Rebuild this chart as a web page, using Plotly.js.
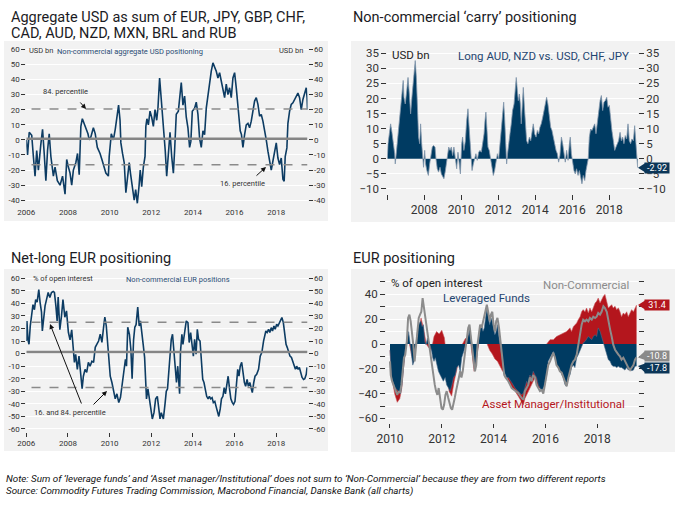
<!DOCTYPE html>
<html><head><meta charset="utf-8">
<script src="https://cdn.plot.ly/plotly-3.0.1.min.js"></script>
<style>html,body{margin:0;padding:0;background:#fff;}#chart{width:700px;height:518px;}</style>
</head><body><div id="chart"></div>
<script>
// ---------- Panel 1: aggregate USD (USD bn) ----------
const usdYears = [2006.00,2006.06,2006.14,2006.26,2006.34,2006.42,2006.50,2006.58,2006.69,2006.78,2006.86,2006.94,2007.02,2007.10,2007.18,2007.30,2007.38,2007.49,2007.62,2007.74,2007.86,2007.94,2008.02,2008.10,2008.18,2008.26,2008.38,2008.46,2008.54,2008.62,2008.69,2008.77,2008.86,2008.96,2009.02,2009.10,2009.22,2009.31,2009.41,2009.54,2009.63,2009.73,2009.82,2009.94,2009.98,2010.08,2010.18,2010.27,2010.37,2010.43,2010.50,2010.54,2010.62,2010.70,2010.78,2010.86,2010.94,2011.00,2011.10,2011.18,2011.25,2011.33,2011.41,2011.47,2011.54,2011.62,2011.70,2011.74,2011.79,2011.86,2011.94,2012.02,2012.10,2012.18,2012.26,2012.32,2012.40,2012.46,2012.53,2012.61,2012.67,2012.74,2012.82,2012.90,2012.98,2013.06,2013.12,2013.20,2013.30,2013.44,2013.52,2013.60,2013.68,2013.76,2013.84,2013.90,2013.97,2014.08,2014.16,2014.24,2014.32,2014.40,2014.48,2014.56,2014.64,2014.72,2014.80,2014.88,2014.96,2015.04,2015.12,2015.20,2015.28,2015.36,2015.44,2015.52,2015.60,2015.68,2015.76,2015.84,2015.92,2016.00,2016.08,2016.14,2016.21,2016.27,2016.33,2016.40,2016.48,2016.56,2016.64,2016.72,2016.80,2016.88,2016.96,2017.04,2017.12,2017.20,2017.28,2017.36,2017.44,2017.52,2017.60,2017.68,2017.76,2017.84,2017.92,2018.00,2018.08,2018.16,2018.24,2018.32,2018.38,2018.43,2018.51,2018.56,2018.64,2018.72,2018.80,2018.88,2018.96,2019.04,2019.12,2019.20,2019.28,2019.36,2019.44,2019.48,2019.50];
const usdVals = [0,-10,5,3,-11,-24,-7,-20,-4,7,-9,-27,-7,4,-11,-24,-18,-27,-30,-24,-36,-13,-18,-22,-30,-20,-15,-9,-23,9,14,11,7,4,0,2,8,4,-5,-9,-13,-18,-22,-24,-11,4,0,7,18,23,13,-2,-9,-15,-35,-24,-15,-22,-31,-40,-33,-42,-31,-20,-31,-18,-11,9,14,10,19,15,9,20,13,21,41,31,22,4,-7,-24,-11,5,-11,-22,-7,17,19,38,23,29,15,8,-5,-1,19,21,25,17,1,-5,6,3.5,21,30,39,45.5,51,48,45.5,41,44.5,39,34.5,28,37,30,34.5,28,41,44.5,34.5,25.5,14.6,6,3.5,-5,3.5,10,11,8,12.4,19,25.7,28,23.5,15.7,16.8,12.4,7,0,-7.5,-14,-20,-14,-6.4,-2,-12,-16.4,-12,-26,-27.4,-11,-5.3,11,19,23.5,24.6,26.8,29,31,28,20,26.8,31,34.5,28,20];
const usdP84 = 20.5, usdP16 = -16.5, usdMid = 0.8;

// ---------- Panel 2: carry positioning (USD bn) ----------
const carryYears = [2006.00,2006.04,2006.11,2006.18,2006.25,2006.32,2006.40,2006.43,2006.50,2006.58,2006.65,2006.72,2006.79,2006.86,2006.90,2006.97,2007.05,2007.12,2007.19,2007.26,2007.33,2007.41,2007.48,2007.51,2007.57,2007.62,2007.69,2007.75,2007.80,2007.86,2007.91,2007.96,2008.02,2008.07,2008.14,2008.22,2008.29,2008.36,2008.43,2008.50,2008.58,2008.63,2008.70,2008.77,2008.85,2008.92,2008.99,2009.06,2009.14,2009.21,2009.26,2009.32,2009.39,2009.46,2009.53,2009.60,2009.68,2009.75,2009.82,2009.89,2009.95,2010.02,2010.07,2010.14,2010.22,2010.29,2010.36,2010.41,2010.47,2010.52,2010.58,2010.65,2010.72,2010.79,2010.86,2010.94,2011.01,2011.08,2011.15,2011.23,2011.28,2011.33,2011.39,2011.44,2011.51,2011.59,2011.66,2011.73,2011.80,2011.87,2011.95,2012.02,2012.09,2012.16,2012.23,2012.29,2012.34,2012.40,2012.45,2012.50,2012.56,2012.63,2012.70,2012.77,2012.85,2012.92,2012.97,2013.03,2013.08,2013.14,2013.19,2013.24,2013.30,2013.35,2013.41,2013.46,2013.53,2013.60,2013.68,2013.75,2013.82,2013.89,2013.96,2014.04,2014.11,2014.18,2014.25,2014.32,2014.40,2014.47,2014.54,2014.61,2014.68,2014.76,2014.83,2014.90,2014.97,2015.05,2015.12,2015.19,2015.26,2015.33,2015.41,2015.48,2015.55,2015.62,2015.69,2015.77,2015.84,2015.89,2015.95,2016.02,2016.09,2016.16,2016.23,2016.31,2016.38,2016.45,2016.52,2016.59,2016.67,2016.74,2016.81,2016.86,2016.92,2016.99,2017.06,2017.14,2017.21,2017.28,2017.35,2017.42,2017.50,2017.57,2017.64,2017.71,2017.78,2017.86,2017.93,2018.00,2018.07,2018.14,2018.22,2018.29,2018.36,2018.43,2018.50,2018.58,2018.65,2018.72,2018.79,2018.86,2018.94,2019.01,2019.08,2019.15,2019.22,2019.30,2019.37,2019.44,2019.50,2019.53];
const carryVals = [0,5,8.3,11.6,8.8,6,1.7,-1.7,2.8,8.3,12.7,16,22.6,26,20.4,18.2,22.6,27,21.5,14.9,20.4,26,29.2,32.6,27,18.2,7.2,5,11.6,5,0,-2.8,2.8,-1.7,-3.9,-5.5,-1.7,1.7,3.9,4.4,3.9,0,-3.3,-4.4,-2.8,-5,-6,-6.6,-3.9,-0.5,1.7,3.9,2.8,3.9,1.1,3.9,0,-3.3,2.2,-1.7,-5,5,7.2,2.8,6,12.7,16.6,11.6,5,0,-3.9,-1.7,0.6,1.7,-0.5,2.2,2.8,2.2,5,8.3,12.7,15.5,9.4,3.9,2.8,-0.5,-2.8,-5.5,-3.9,-1.7,1.7,0,5,9.4,16.6,18.8,13.8,5,-1.7,1.7,6,8.3,11.6,16,18.2,23.7,27,22.6,19.3,21.5,18.2,11.6,21.5,23.7,17.1,10.5,6,5,7.2,6,9.4,11.6,8.3,7.2,9.4,8.3,10.5,11.6,13.8,16,18.2,20.4,18.2,12.7,10.5,9.4,7.2,5,2.8,1.7,-1.1,1.1,7.2,5,1.7,-1.1,2.8,-0.5,5,7.2,1.7,-1.7,-3.9,-5,-3.3,-5.5,-3.9,-6,-8.3,-5.5,-7.2,-3.9,-1.7,0,7.2,9.9,9.4,10.5,11.6,8.3,11.6,16,19.3,21,16,18.8,19.3,20.4,17.1,17.7,12.7,9.4,6,2.8,3.9,5,6,8.8,6,7.2,5,7.7,6.6,11.6,6,5,6.6,6,11,5,0,-2.92];

// ---------- Panel 3: net-long EUR (% of open interest) ----------
const eurYears = [2006.00,2006.03,2006.08,2006.13,2006.19,2006.26,2006.32,2006.39,2006.45,2006.52,2006.60,2006.66,2006.73,2006.77,2006.84,2006.90,2006.97,2007.05,2007.13,2007.21,2007.29,2007.35,2007.42,2007.48,2007.53,2007.61,2007.69,2007.76,2007.85,2007.93,2008.02,2008.10,2008.18,2008.26,2008.31,2008.37,2008.45,2008.53,2008.61,2008.68,2008.74,2008.82,2008.90,2008.98,2009.06,2009.15,2009.23,2009.31,2009.39,2009.47,2009.55,2009.63,2009.71,2009.77,2009.84,2009.90,2009.97,2010.03,2010.11,2010.19,2010.27,2010.35,2010.44,2010.52,2010.60,2010.68,2010.76,2010.81,2010.87,2010.95,2011.02,2011.08,2011.15,2011.21,2011.27,2011.35,2011.42,2011.48,2011.55,2011.61,2011.68,2011.73,2011.77,2011.84,2011.90,2011.97,2012.05,2012.13,2012.21,2012.29,2012.35,2012.42,2012.48,2012.58,2012.66,2012.72,2012.78,2012.84,2012.90,2012.96,2013.02,2013.08,2013.15,2013.21,2013.27,2013.36,2013.40,2013.47,2013.52,2013.60,2013.68,2013.76,2013.82,2013.89,2013.95,2014.02,2014.08,2014.15,2014.21,2014.27,2014.34,2014.40,2014.47,2014.53,2014.60,2014.66,2014.73,2014.79,2014.85,2014.92,2014.98,2015.05,2015.11,2015.18,2015.24,2015.31,2015.37,2015.44,2015.50,2015.56,2015.63,2015.69,2015.76,2015.82,2015.89,2015.95,2016.02,2016.08,2016.15,2016.21,2016.27,2016.34,2016.40,2016.47,2016.53,2016.60,2016.66,2016.73,2016.79,2016.85,2016.92,2016.98,2017.06,2017.15,2017.23,2017.31,2017.39,2017.44,2017.50,2017.56,2017.63,2017.69,2017.76,2017.82,2017.89,2017.95,2018.02,2018.08,2018.15,2018.21,2018.27,2018.34,2018.40,2018.47,2018.53,2018.60,2018.66,2018.73,2018.79,2018.85,2018.92,2018.98,2019.05,2019.11,2019.18,2019.24,2019.31,2019.37,2019.44,2019.48];
const eurVals = [10,26,11,7.5,22,33,39,35,43,41,51,41,33,18,30,38,43,48.7,44.7,48.7,49.5,48.7,38,26,45,19,30,43,29,34,17,11,19,6,-7,-0.5,-12.5,-2,-15,-28,-18,-12.5,-15,-7,-10,-6,-7,5,7.5,10,15.4,9,21,29,22,9,-7,-18,-23,-31,-36,-32,-39,-35,-26,-15,-4.5,-10,21,15.4,3.5,-20,11,21,23,37,22,26,18,7.5,-3,-20,-36,-28,-36,-44,-52,-47,-36,-34,-44,-52,-47,-52,-40,-30,-28,-15,-2,11.4,15.4,1,-15,-23,-10,-32,1,15.4,7.4,19.4,26,24.7,8.8,16.8,10,-2,11.4,-0.5,19.4,11.4,10,-2,-20.5,-23,-31,-34,-36,-34,-36,-35,-39,-38,-42,-48,-50,-44,-36,-34,-27,-32,-26,-18,-28.5,-36,-39,-40.4,-38,-23,-12.5,-18,-10,-7,-15,-23,-26,-20.5,-26,-23,-27,-31,-23,-18,-16.5,-12.5,-2,1,10,15.4,18,16.8,19.4,16.8,20.7,18,22,19.4,23.4,22,24.7,26,28.7,24.7,16.8,7.4,4.8,1,-2,-3,-6,-8.5,-12.5,-10,-12.5,-11,-15,-19,-20.5,-20,-16.5,-11];
const eurP84 = 25, eurP16 = -27, eurMid = 1.3;

// ---------- Panel 4: EUR positioning (% of open interest) ----------
const lfYears = [2010.00,2010.06,2010.19,2010.32,2010.41,2010.46,2010.52,2010.57,2010.62,2010.67,2010.72,2010.77,2010.83,2010.88,2010.93,2010.98,2011.03,2011.08,2011.14,2011.19,2011.24,2011.29,2011.34,2011.39,2011.45,2011.50,2011.55,2011.60,2011.65,2011.70,2011.75,2011.81,2011.87,2011.94,2012.00,2012.06,2012.13,2012.19,2012.26,2012.32,2012.39,2012.45,2012.52,2012.58,2012.65,2012.71,2012.77,2012.84,2012.90,2012.97,2013.03,2013.07,2013.12,2013.17,2013.23,2013.28,2013.33,2013.38,2013.43,2013.48,2013.54,2013.59,2013.64,2013.69,2013.74,2013.79,2013.85,2013.90,2013.95,2014.00,2014.05,2014.10,2014.15,2014.21,2014.26,2014.31,2014.36,2014.41,2014.50,2014.57,2014.70,2014.83,2014.95,2015.08,2015.15,2015.21,2015.28,2015.34,2015.40,2015.47,2015.53,2015.60,2015.66,2015.73,2015.79,2015.86,2015.92,2015.98,2016.05,2016.11,2016.18,2016.24,2016.31,2016.37,2016.43,2016.50,2016.56,2016.63,2016.69,2016.76,2016.82,2016.89,2016.95,2017.01,2017.08,2017.14,2017.21,2017.27,2017.34,2017.40,2017.46,2017.53,2017.59,2017.66,2017.72,2017.79,2017.85,2017.92,2017.98,2018.04,2018.11,2018.17,2018.24,2018.30,2018.37,2018.43,2018.50,2018.56,2018.62,2018.69,2018.75,2018.82,2018.88,2018.94,2019.01,2019.07,2019.14,2019.20,2019.27,2019.33,2019.40,2019.46,2019.52];
const lfVals = [-5,-27,-35,-38,-40,-33,-17,-8.6,0,2,10,-0.5,-8.6,-17,-14,-3.2,4.8,13,17,18.3,14,15.6,2,-0.5,4.8,2,-2,-4.6,-11,-14,-11,-17,-22,-25,-27,-30,-27,-33,-35.5,-38,-33,-27,-25,-19,-17,-22,-11,-7,-2,2,7.5,13,6,-0.5,-8.6,-17,-14,-3.2,7.5,13,15.6,10.2,13,21,29,23.7,15.6,21,18.3,13,7.5,10.2,15.6,4.8,-0.5,-8.6,-17,-22,-27,-27,-31,-35.5,-38,-41,-39.5,-35.5,-30,-33,-25,-27,-22,-25,-27,-33,-35.5,-38,-35.5,-33,-25,-14,-11,-8.6,-6,-11,-17,-19,-22,-25,-27,-33,-34,-27,-25,-19,-17,-19,-11,-8.6,-4.6,-2,0.8,2,3.5,6,4.8,3.5,6,7.5,6,13,10.2,6,0.8,-4.6,-10,-12.6,-14,-17,-18,-18,-19,-18,-19,-19,-20,-21,-19,-21,-20,-21.5,-21,-18,-17.8];
const amYears = [2010.00,2010.08,2010.18,2010.28,2010.38,2010.46,2010.52,2010.60,2010.70,2010.80,2010.90,2011.00,2011.10,2011.20,2011.30,2011.40,2011.50,2011.60,2011.70,2011.80,2011.90,2012.00,2012.10,2012.18,2012.28,2012.38,2012.48,2012.58,2012.70,2012.80,2012.90,2013.00,2013.08,2013.15,2013.25,2013.35,2013.45,2013.55,2013.65,2013.75,2013.85,2013.95,2014.05,2014.15,2014.25,2014.35,2014.44,2014.57,2014.70,2014.83,2014.95,2015.08,2015.15,2015.21,2015.28,2015.34,2015.47,2015.60,2015.73,2015.86,2015.92,2015.98,2016.05,2016.18,2016.31,2016.43,2016.56,2016.69,2016.82,2016.95,2017.01,2017.08,2017.14,2017.21,2017.27,2017.34,2017.40,2017.46,2017.53,2017.59,2017.66,2017.72,2017.79,2017.85,2017.92,2017.98,2018.04,2018.11,2018.17,2018.24,2018.30,2018.37,2018.43,2018.50,2018.56,2018.62,2018.69,2018.75,2018.82,2018.88,2018.94,2019.01,2019.07,2019.14,2019.20,2019.27,2019.33,2019.40,2019.46,2019.52];
const amVals = [-5,-28,-40,-47,-44,-35,-20,-5,5,-5,-15,-2,10,21,12,0,-3,-5,6,10,8,11,5,-10,-38,-42,-30,-20,-10,0,4,6,8,-5,-22,-10,3,8,5,0,-5,-8,-12,-14,-18,-22,-22,-30,-35.5,-38,-42,-46,-49,-44,-41,-38,-33,-27,-35.5,-35.5,-30,-17,0,3.5,3.5,6,7.5,9,10,13,10,14,15.6,17,19.6,22,26,27.7,26,29,25,29,26,30,33,34.4,37,33,35.8,38.4,40,34.4,29,30.4,31.7,29,30.4,27.7,29,26,22,25,23.7,26,22,25,27.7,26,29,31.4];
const ncYears = [2010.00,2010.03,2010.08,2010.13,2010.18,2010.23,2010.28,2010.34,2010.39,2010.44,2010.49,2010.54,2010.59,2010.65,2010.70,2010.75,2010.80,2010.85,2010.90,2010.95,2011.00,2011.06,2011.11,2011.16,2011.21,2011.26,2011.32,2011.37,2011.42,2011.47,2011.52,2011.57,2011.63,2011.68,2011.73,2011.78,2011.83,2011.88,2011.94,2011.99,2012.04,2012.09,2012.14,2012.19,2012.25,2012.30,2012.35,2012.40,2012.45,2012.50,2012.55,2012.61,2012.66,2012.71,2012.76,2012.81,2012.86,2012.92,2012.97,2013.02,2013.07,2013.12,2013.17,2013.23,2013.28,2013.33,2013.38,2013.43,2013.48,2013.54,2013.59,2013.64,2013.69,2013.74,2013.79,2013.85,2013.90,2013.95,2014.00,2014.05,2014.10,2014.15,2014.21,2014.26,2014.31,2014.36,2014.41,2014.46,2014.57,2014.70,2014.83,2014.95,2015.08,2015.15,2015.21,2015.28,2015.34,2015.40,2015.47,2015.53,2015.60,2015.66,2015.73,2015.79,2015.86,2015.92,2015.98,2016.05,2016.11,2016.18,2016.24,2016.31,2016.37,2016.43,2016.50,2016.56,2016.63,2016.69,2016.76,2016.82,2016.89,2016.95,2017.01,2017.08,2017.14,2017.21,2017.27,2017.34,2017.40,2017.46,2017.53,2017.59,2017.66,2017.72,2017.79,2017.85,2017.92,2017.98,2018.04,2018.11,2018.17,2018.24,2018.30,2018.37,2018.43,2018.50,2018.56,2018.62,2018.69,2018.75,2018.82,2018.88,2018.94,2019.01,2019.07,2019.14,2019.20,2019.27,2019.33,2019.40,2019.46,2019.52];
const ncVals = [-14,-25,-30,-33,-35.5,-39.5,-41,-38,-39.5,-33,-19,-11,-8.6,2,21,23.7,18.3,10,-0.5,-14,-3,15.6,21,23.7,26,37,27.7,23.7,13,4.8,-0.5,-8.6,-17,-27,-33,-38,-41,-35.5,-46,-51.6,-53,-49,-41,-38,-43.5,-49,-51.6,-53,-49,-43.5,-38,-33,-27,-22,-27,-22,-11,-3,4.8,13,15.6,4.8,-6,-14,-22,-17,-0.5,10,15.6,13,18.3,23.7,29,31.7,26,18.3,23.7,26,15.6,10,18.3,21,13,2,-8.6,-19,-25,-27,-30,-35.5,-38,-39.5,-43.5,-45,-38,-35.5,-33,-27,-30,-25,-27,-33,-35.5,-38,-37,-40,-33,-22,-17,-14,-11,-7,-11,-17,-19,-22,-23,-27,-31,-34,-27,-22,-17,-14,-12.6,-8.6,-0.5,7.5,15.6,19.6,18.3,19.6,18.3,21,19.6,22,21,22,25,23.7,26,30.4,29,26,18.3,11.6,6,-0.5,-4.6,-7,-8.6,-10,-12.6,-11,-14,-17,-19,-21,-19,-17,-12.6,-10.8];

// ---------- tick labels ----------
const yearTicks12 = [2006,2008,2010,2012,2014,2016,2018];
const yearTicks2 = [2006,2008,2010,2012,2014,2016,2018];
const yearText2 = ['','2008','2010','2012','2014','2016','2018'];
const yearTicks4 = [2010,2012,2014,2016,2018];
const usdTicks = [-40,-30,-20,-10,0,10,20,30,40,50,60];
const carryTicks = [-10,-5,0,5,10,15,20,25,30,35];
const eurTicks = [-60,-50,-40,-30,-20,-10,0,10,20,30,40,50,60];
const posTicks = [-60,-50,-40,-30,-20,-10,0,10,20,30,40,50];

// ---------- helpers ----------
const W = 700, H = 518;
const px = v => v / W, py = v => 1 - v / H;
const FONT = 'Roboto, "Open Sans", Arial, sans-serif';
const NAVY = '#0d3c63', AREA_NAVY = '#003b62', RED = '#b4161d', GRAY = '#8c8c8c', BG = '#f2f2f2';
const lab = v => (v < 0 ? '-' + Math.abs(v) : String(v));
const labM = v => (v < 0 ? '\u2212' + Math.abs(v) : String(v));
const last = a => a[a.length - 1];

function yAx(domain, range, ticks, text, size, anchor, extra) {
  return Object.assign({domain: domain, range: range, anchor: anchor, tickmode: 'array', tickvals: ticks, ticktext: text,
    ticks: 'outside', ticklen: 4, tickcolor: '#333', tickwidth: 1, tickfont: {family: FONT, size: size, color: '#333'},
    showgrid: true, gridcolor: '#ffffff', gridwidth: 1, zeroline: false, showline: false, fixedrange: true}, extra || {});
}
function yAxR(base, over, anchor, extra) {
  const a = Object.assign({}, base, extra || {});
  a.overlaying = over; a.side = 'right'; a.showgrid = false; a.anchor = anchor; delete a.domain;
  return a;
}
function xAx(domain, range, ticks, text, size, anchor, tlen) {
  return {domain: domain, range: range, anchor: anchor, tickmode: 'array', tickvals: ticks, ticktext: text,
    ticks: tlen ? 'outside' : '', ticklen: tlen || 0, tickcolor: '#333', tickfont: {family: FONT, size: size, color: '#333'},
    showgrid: false, zeroline: false, showline: false, fixedrange: true};
}

const traces = [
  {x: usdYears, y: usdVals, xaxis: 'x', yaxis: 'y', type: 'scatter', mode: 'lines', line: {color: NAVY, width: 1.6}},
  {x: [usdYears[0]], y: [null], xaxis: 'x', yaxis: 'y2', type: 'scatter', mode: 'lines'},
  {x: carryYears, y: carryVals, xaxis: 'x2', yaxis: 'y3', type: 'scatter', mode: 'lines', fill: 'tozeroy',
   fillcolor: AREA_NAVY, line: {color: '#8196ab', width: 0.8}},
  {x: [carryYears[0]], y: [null], xaxis: 'x2', yaxis: 'y4', type: 'scatter', mode: 'lines'},
  {x: eurYears, y: eurVals, xaxis: 'x3', yaxis: 'y5', type: 'scatter', mode: 'lines', line: {color: NAVY, width: 1.6}},
  {x: [eurYears[0]], y: [null], xaxis: 'x3', yaxis: 'y6', type: 'scatter', mode: 'lines'},
  {x: amYears, y: amVals, xaxis: 'x4', yaxis: 'y7', type: 'scatter', mode: 'lines', fill: 'tozeroy',
   fillcolor: RED, line: {color: '#c9555b', width: 0.6}},
  {x: lfYears, y: lfVals, xaxis: 'x4', yaxis: 'y7', type: 'scatter', mode: 'lines', fill: 'tozeroy',
   fillcolor: AREA_NAVY, line: {color: '#4a6a88', width: 0.6}},
  {x: ncYears, y: ncVals, xaxis: 'x4', yaxis: 'y7', type: 'scatter', mode: 'lines', line: {color: GRAY, width: 2}},
  {x: [ncYears[0]], y: [null], xaxis: 'x4', yaxis: 'y8', type: 'scatter', mode: 'lines'}
];

const y1 = yAx([py(206.3), py(47.8)], [-44, 61], usdTicks, usdTicks.map(lab), 8, 'x');
const y3 = yAx([py(193.5), py(50.3)], [-11.5, 36], carryTicks, carryTicks.map(labM), 11.5, 'x2', {ticklen: 5});
const y5 = yAx([py(431.5), py(277)], [-62, 61], eurTicks, eurTicks.map(lab), 8, 'x3');
const y7 = yAx([py(423.4), py(279.5)], [-64, 52], posTicks, posTicks.map(v => (v % 20 === 0 ? labM(v) : '')), 11.5, 'x4', {ticklen: 5});

const layout = {
  width: W, height: H, margin: {l: 0, r: 0, t: 0, b: 0}, paper_bgcolor: '#ffffff', plot_bgcolor: 'rgba(0,0,0,0)',
  showlegend: false, font: {family: FONT},
  xaxis: xAx([px(26.3), px(307.5)], [2006, 2019.5], yearTicks12, yearTicks12.map(String), 8, 'y', 0),
  yaxis: y1, yaxis2: yAxR(y1, 'y', 'x'),
  xaxis2: xAx([px(387.3), px(638)], [2006, 2019.55], yearTicks2, yearText2, 12, 'y3', 5),
  yaxis3: y3, yaxis4: yAxR(y3, 'y3', 'x2'),
  xaxis3: xAx([px(26.3), px(307.5)], [2006, 2019.5], yearTicks12, yearTicks12.map(String), 8, 'y5', 4),
  yaxis5: y5, yaxis6: yAxR(y5, 'y5', 'x3'),
  xaxis4: xAx([px(386.1), px(638.1)], [2009.85, 2019.58], yearTicks4, yearTicks4.map(String), 12, 'y7', 4),
  yaxis7: y7, yaxis8: yAxR(y7, 'y7', 'x4', {showticklabels: false}),
  shapes: [], annotations: []
};

// gray panel backgrounds
[[4, 41, 328, 221], [351, 41, 675, 222], [4, 269, 328, 451], [351, 269, 675, 452]].forEach(b => {
  layout.shapes.push({type: 'rect', xref: 'paper', yref: 'paper', x0: px(b[0]), x1: px(b[2]), y0: py(b[3]), y1: py(b[1]),
    fillcolor: BG, line: {width: 0}, layer: 'below'});
});
// percentile + mid lines
function hline(xr, yr, yv, x0, x1, dash, color, w) {
  layout.shapes.push({type: 'line', xref: xr, yref: yr, x0: x0, x1: x1, y0: yv, y1: yv, layer: 'above',
    line: {color: color, width: w, dash: dash}});
}
hline('x', 'y', usdP84, 2006.25, 2019.5, 'dash', '#8a8a8a', 1.5);
hline('x', 'y', usdP16, 2006.25, 2019.5, 'dash', '#8a8a8a', 1.5);
hline('x', 'y', usdMid, 2006, 2019.5, 'solid', '#858585', 2.5);
hline('x3', 'y5', eurP84, 2006.25, 2019.5, 'dash', '#8a8a8a', 1.5);
hline('x3', 'y5', eurP16, 2006.25, 2019.5, 'dash', '#8a8a8a', 1.5);
hline('x3', 'y5', eurMid, 2006, 2019.5, 'solid', '#858585', 2.5);

// text helpers
function txt(t, x, y, size, color, anchor, extra) {
  layout.annotations.push(Object.assign({text: t, xref: 'paper', yref: 'paper', x: px(x), y: py(y), xanchor: anchor || 'left',
    yanchor: 'middle', showarrow: false, font: {family: FONT, size: size, color: color}}, extra || {}));
}
function arrow(x0, y0, x1, y1) {
  layout.annotations.push({text: '', xref: 'paper', yref: 'paper', x: px(x1), y: py(y1), axref: 'pixel', ayref: 'pixel',
    ax: x0 - x1, ay: y0 - y1, showarrow: true, arrowhead: 2, arrowsize: 1, arrowwidth: 1, arrowcolor: '#111'});
}
function tag(val, digits, yref, pxPerUnit, bg, shift) {
  const d = 4.5 / pxPerUnit, s = (shift || 0) / pxPerUnit;
  layout.shapes.push({type: 'path', xref: 'paper', yref: yref, layer: 'above',
    path: `M ${px(638)} ${val} L ${px(645)} ${val + s + d} L ${px(645)} ${val + s - d} Z`, fillcolor: bg, line: {width: 0}});
  layout.annotations.push({text: val.toFixed(digits), xref: 'paper', yref: yref,
    x: px(644), y: val + s, xanchor: 'left', yanchor: 'middle', showarrow: false, bgcolor: bg, width: 24, height: 10,
    borderpad: 0, align: 'center', font: {family: FONT, size: 9, color: '#ffffff'}});
}

// titles
const TC = '#1b1b24';
txt('Aggregate USD as sum of EUR, JPY, GBP, CHF,', 9, 17, 14.5, TC);
txt('CAD, AUD, NZD, MXN, BRL and RUB', 9, 34, 14.5, TC);
txt('Non-commercial \u2018carry\u2019 positioning', 351, 17, 14.5, TC);
txt('Net-long EUR positioning', 9, 258, 14.5, TC);
txt('EUR positioning', 351, 258, 14.5, TC);

// panel 1 labels
txt('USD bn', 27, 50, 7.5, '#333');
txt('Non-commercial aggregate USD positioning', 55, 51, 7.5, '#2a4d75');
txt('USD bn', 305, 50, 7.5, '#333', 'right');
txt('84. percentile', 41, 92, 7.5, '#333');
arrow(79, 101, 86, 109);
txt('16. percentile', 218, 183, 7.5, '#333');
arrow(255, 177, 266, 167);

// panel 2 labels
txt('USD bn', 390, 55, 11.5, '#222');
txt('Long AUD, NZD vs. USD, CHF, JPY', 631, 56, 11.5, '#1f4570', 'right');
tag(last(carryVals), 2, 'y3', 3.0156, '#0b3658', 0);

// panel 3 labels
txt('% of open interest', 31, 278, 7.5, '#333');
txt('Non-commercial EUR positions', 124, 279, 7.5, '#2a4d75');
txt('16. and 84. percentile', 32, 412, 7.5, '#333');
arrow(82, 405, 50, 324);
arrow(92, 406, 107, 391);

// panel 4 labels
txt('% of open interest', 389, 283, 11.5, '#222');
txt('Non-Commercial', 631, 285, 11.5, GRAY, 'right');
txt('Leveraged Funds', 441, 298, 11.5, '#1f4570');
txt('Asset Manager/Institutional', 480, 404, 11.5, '#b4161d');
tag(last(amVals), 1, 'y7', 1.24, '#b4161d', 0);
tag(last(ncVals), 1, 'y7', 1.24, '#8a8a8a', 1.8);
tag(last(lfVals), 1, 'y7', 1.24, '#0b3658', -2);

// footnotes
txt('<i>Note: Sum of \u2018leverage funds\u2019 and \u2018Asset manager/Institutional\u2019 does not sum to \u2018Non-Commercial\u2019 because they are from two different reports</i>', 4, 478, 9.8, '#111');
txt('<i>Source: Commodity Futures Trading Commission, Macrobond Financial, Danske Bank (all charts)</i>', 4, 491, 9.8, '#111');

Plotly.newPlot('chart', traces, layout, {staticPlot: true, displayModeBar: false});
</script></body></html>
